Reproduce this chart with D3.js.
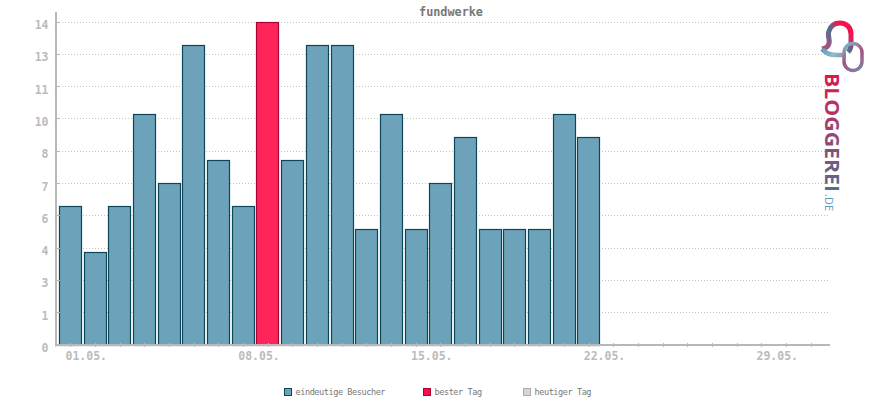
<!DOCTYPE html>
<html>
<head>
<meta charset="utf-8">
<script src="https://cdn.jsdelivr.net/npm/d3@7"></script>
<style>
body { margin: 0; background: #fff; }
svg { display: block; }
.lbl { font-family: "DejaVu Sans Mono", monospace; font-weight: bold; font-size: 11.5px; fill: #bbb; }
.leg { font-family: "DejaVu Sans Mono", monospace; font-size: 8.6px; letter-spacing: -0.46px; fill: #777; }
</style>
</head>
<body>
<div id="chart"></div>
<script>
// visitors per day, May
const days = d3.range(1, 32);
const visitors = [6, 4, 6, 10, 7, 13, 8, 6, 14, 8, 13, 13, 5, 10, 5, 7, 9, 5, 5, 5, 10, 9];
const bestDay = 9;
const yTicks = [0, 1.4, 2.8, 4.2, 5.6, 7, 8.4, 9.8, 11.2, 12.6, 14];
const xLabels = ["01.05.", "08.05.", "15.05.", "22.05.", "29.05."];
const xLabelDays = [1, 8, 15, 22, 29];
const legendItems = ["eindeutige Besucher", "bester Tag", "heutiger Tag"];

const width = 870;
const height = 400;

const svg = d3.select("#chart")
    .append("svg")
    .attr("width", width)
    .attr("height", height);

const x = d3.scaleBand().domain(days).range([57.94, 822.94]).paddingInner(0.09).paddingOuter(0.045);
const y = d3.scaleLinear().domain([0, 14]).range([345, 22]);

// grid
svg.append("g").selectAll("line")
    .data(yTicks.slice(1))
    .enter().append("line")
    .attr("x1", 56).attr("x2", 830)
    .attr("y1", d => Math.floor(y(d)) + 0.5).attr("y2", d => Math.floor(y(d)) + 0.5)
    .attr("stroke", "#c4c4c4")
    .attr("stroke-dasharray", "1 2");

// bars
svg.append("g").selectAll("rect")
    .data(visitors)
    .enter().append("rect")
    .attr("x", (d, i) => Math.round(x(days[i])) + 0.5)
    .attr("y", d => Math.floor(y(d)) + 0.5)
    .attr("width", Math.round(x.bandwidth()))
    .attr("height", d => 345 - Math.floor(y(d)))
    .attr("fill", (d, i) => days[i] === bestDay ? "#ff2459" : "#6ca3bb")
    .attr("stroke", (d, i) => days[i] === bestDay ? "#a90235" : "#0f4657")
    .attr("stroke-width", 1.2);

// axes
svg.append("line").attr("x1", 56).attr("x2", 56).attr("y1", 12).attr("y2", 346.5)
    .attr("stroke", "#b8b8b8").attr("stroke-width", 2);
svg.append("line").attr("x1", 55).attr("x2", 830).attr("y1", 345).attr("y2", 345)
    .attr("stroke", "#b8b8b8").attr("stroke-width", 2);

// y ticks and labels
svg.append("g").selectAll("line")
    .data(yTicks)
    .enter().append("line")
    .attr("x1", 57).attr("x2", 60)
    .attr("y1", d => Math.floor(y(d)) + 0.5).attr("y2", d => Math.floor(y(d)) + 0.5)
    .attr("stroke", "#b8b8b8");
svg.append("g").selectAll("text")
    .data(yTicks)
    .enter().append("text")
    .attr("class", "lbl")
    .attr("x", 48.5)
    .attr("y", d => y(d) + 7)
    .attr("text-anchor", "end")
    .text(d => Math.round(d));

// x ticks and labels
svg.append("g").selectAll("line")
    .data(days)
    .enter().append("line")
    .attr("x1", d => Math.round(x(d) + x.bandwidth() / 2) + 0.5)
    .attr("x2", d => Math.round(x(d) + x.bandwidth() / 2) + 0.5)
    .attr("y1", 347).attr("y2", 343)
    .attr("stroke", "#b8b8b8");
svg.append("g").selectAll("text")
    .data(xLabels)
    .enter().append("text")
    .attr("class", "lbl")
    .attr("x", (d, i) => x(xLabelDays[i]) + x.bandwidth() / 2 + 16)
    .attr("y", 360)
    .attr("text-anchor", "middle")
    .text(d => d);

// title
svg.append("text")
    .attr("x", 451).attr("y", 16)
    .attr("text-anchor", "middle")
    .style("font", "bold 11.8px 'DejaVu Sans Mono', monospace")
    .attr("fill", "#777")
    .text("fundwerke");

// legend
const legendX = [284, 423, 523];
const legendFill = ["#6ca3bb", "#ff0a45", "#d6d6d6"];
const legendStroke = ["#0f4657", "#a90235", "#aaaaaa"];
const legend = svg.append("g").selectAll("g")
    .data(legendItems)
    .enter().append("g")
    .attr("transform", (d, i) => `translate(${legendX[i]},388)`);
legend.append("rect")
    .attr("x", 0.5).attr("y", 0.5).attr("width", 7).attr("height", 7)
    .attr("fill", (d, i) => legendFill[i])
    .attr("stroke", (d, i) => legendStroke[i]);
legend.append("text")
    .attr("class", "leg")
    .attr("x", 11.5).attr("y", 7)
    .text(d => d);

// logo
const defs = svg.append("defs");
function grad(id, x1, y1, x2, y2, stops) {
    const g = defs.append("linearGradient").attr("id", id)
        .attr("gradientUnits", "userSpaceOnUse")
        .attr("x1", x1).attr("y1", y1).attr("x2", x2).attr("y2", y2);
    stops.forEach(s => g.append("stop").attr("offset", s[0]).attr("stop-color", s[1]));
}
grad("arch", 826, 48, 852, 24, [[0, "#a8507f"], [0.45, "#4f7090"], [0.75, "#f5134f"], [1, "#e8144f"]]);
grad("foot", 821, 50, 846, 55, [[0, "#5f9db8"], [0.5, "#8fbccc"], [1, "#8f8fa8"]]);
grad("pill", 846, 44, 864, 71, [[0, "#7fb3c8"], [0.45, "#a8507f"], [1, "#6f8fa8"]]);
grad("wordH", 0, 0, 119, 0, [[0, "#e0144f"], [0.45, "#a03f70"], [1, "#4f6f90"]]);

svg.append("path")
    .attr("d", "M822 49 C828 48 830 44 829 39 C828 35 828 33 829 31 C831 25 835 23 840 23 C846 23 851 27 851 34 L851 45 C851 49 849 51 848 52")
    .attr("fill", "none").attr("stroke", "url(#arch)").attr("stroke-width", 5);
svg.append("path")
    .attr("d", "M822 49 C826 54 830 55 836 55 L846 55")
    .attr("fill", "none").attr("stroke", "url(#foot)").attr("stroke-width", 4.5);
svg.append("rect")
    .attr("x", 844).attr("y", 43.5).attr("width", 18).attr("height", 27).attr("rx", 9)
    .attr("fill", "none").attr("stroke", "url(#pill)").attr("stroke-width", 3.5);

svg.append("text")
    .attr("transform", "translate(825,73) rotate(90)")
    .attr("fill", "url(#wordH)")
    .style("font", "bold 19.6px 'Open Sans', sans-serif")
    .attr("textLength", 119)
    .attr("lengthAdjust", "spacingAndGlyphs")
    .text("BLOGGEREI");
svg.append("text")
    .attr("transform", "translate(825,194) rotate(90)")
    .attr("fill", "#5f9db8")
    .style("font", "11px 'Open Sans', sans-serif")
    .attr("textLength", 17)
    .text(".DE");
</script>
</body>
</html>
